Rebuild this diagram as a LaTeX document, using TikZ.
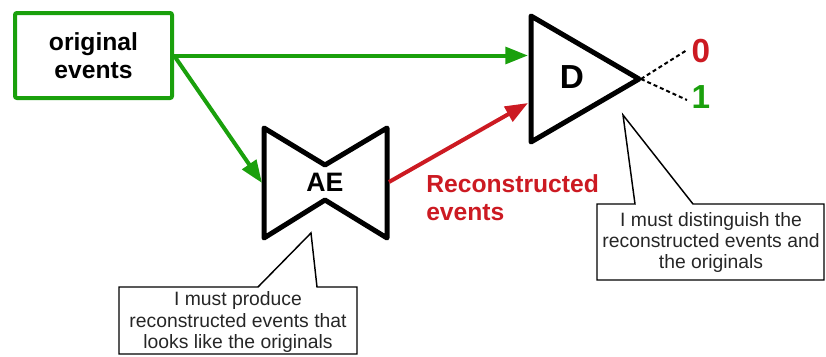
\documentclass[tikz,border=0pt]{standalone}
\usepackage{fontspec}
\setmainfont{Liberation Sans}
\usetikzlibrary{arrows.meta}
\definecolor{evgreen}{RGB}{26,160,12}
\definecolor{evred}{RGB}{204,26,34}
\begin{document}
\begin{tikzpicture}[x=0.75pt, y=-0.75pt,
        lbl/.style={font=\bfseries\fontsize{18.5}{21}\selectfont, inner sep=0pt},
        big/.style={font=\bfseries\fontsize{25}{28}\selectfont, inner sep=0pt},
        note/.style={align=center, text=black!85, inner sep=0pt, font=\fontsize{14.5}{16.1}\selectfont},
        flow/.style={line width=3pt, -{Triangle[length=17pt,width=12.5pt]}},
        net/.style={line width=3.75pt, line join=round},
        callout/.style={draw=black, line width=1.1pt}]
                \useasboundingbox (0,0) rectangle (826,357);
                \node[draw=evgreen, line width=3pt, rounded corners=1.5pt, minimum width=117.75pt, minimum height=63.75pt, align=center, lbl] (orig) at (93.5,55.5) {original\\events};
                % autoencoder
                \draw[net] (264,128) -- (325,165) -- (387,128) -- (387,238) -- (325,200) -- (264,238) -- cycle;
                \node[lbl, font=\bfseries\fontsize{20}{22}\selectfont] (ae) at (325,182.5) {AE};
                \coordinate (aeW) at (262,183);
                \coordinate (aeE) at (389,182);
                % discriminator
                \draw[net] (531,16) -- (639,79) -- (531,142) -- cycle;
                \node[big] (d) at (572,77) {D};
                \coordinate (dW) at (528,57);
                \coordinate (dL) at (528,103);
                \coordinate (dtip) at (641,79);
                \draw[flow, evgreen] (orig.east) -- (orig.east -| dW);
                \draw[flow, evgreen] (orig.east) -- (aeW);
                \draw[flow, evred] (aeE) -- (dL);
                \node[lbl, text=evred, align=left, anchor=north west, font=\bfseries\fontsize{18.5}{21}\selectfont] (recon) at (426,174) {Reconstructed\\events};
                \foreach[count=\i] \y in {50, 100}
                {
                    \draw[line width=1.5pt, dash pattern=on 3pt off 2.2pt] (dtip) -- (687,\y) coordinate (o\i);
                }
                \node[big, text=evred] (out0) at (701,51) {0};
                \node[big, text=evgreen] (out1) at (701,97) {1};
                % speech bubbles
                \draw[callout] (119,287) -- (258,287) -- (311,233) -- (317,287) -- (357,287) -- (357,354) -- (119,354) -- cycle;
                \node[note] (aenote) at (238,322) {I must produce\\reconstructed events that\\looks like the originals};
                \draw[callout] (597,204) -- (635,204) -- (623,115) -- (693,204) -- (824,204) -- (824,280) -- (597,280) -- cycle;
                \node[note] (dnote) at (711,242.5) {I must distinguish the\\reconstructed events and\\the originals};
            \end{tikzpicture}
\end{document}
